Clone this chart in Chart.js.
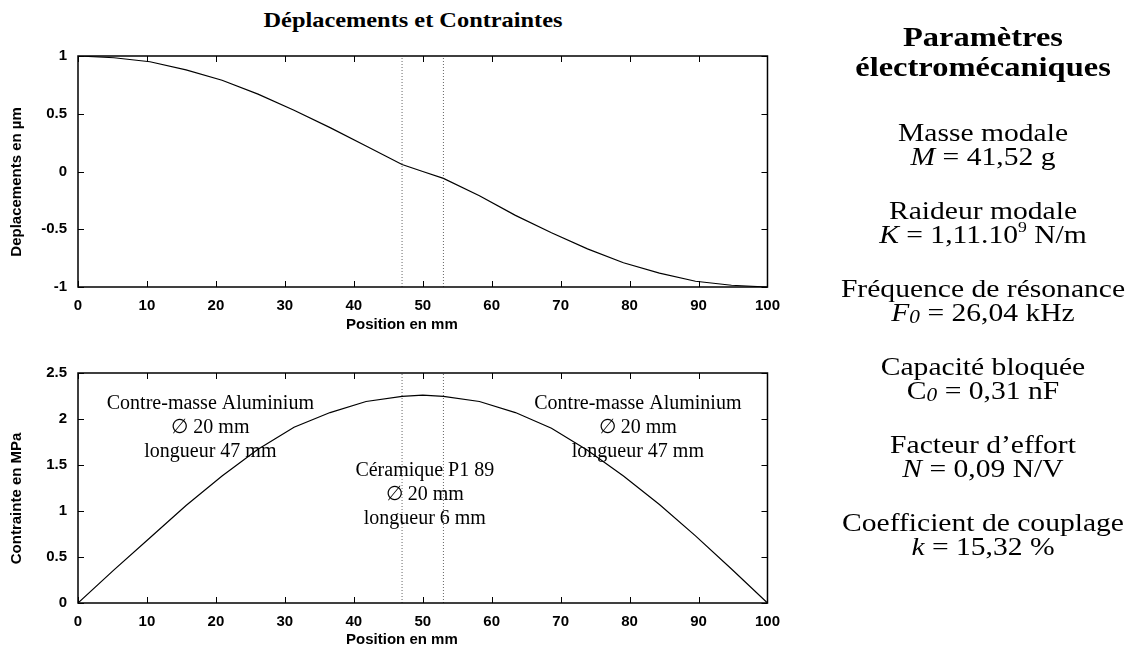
<!DOCTYPE html>
<html>
<head>
<meta charset="utf-8">
<script src="https://cdn.jsdelivr.net/npm/chart.js@4.4.0/dist/chart.umd.min.js"></script>
<style>
body { margin:0; background:#fff; width:1133px; height:655px; overflow:hidden; position:relative; font-family:"Liberation Serif", "Times New Roman", serif; color:#000; }
canvas { position:absolute; left:0; }
#c1 { top:0; }
#c2 { top:340px; }
.t { position:absolute; width:340px; height:28px; line-height:28px; text-align:center; white-space:nowrap; transform:scaleX(1.16); transform-origin:center; }
.h { font-weight:bold; font-size:28px; }
.p { font-size:25.5px; }
#title { position:absolute; left:213px; top:8px; width:400px; text-align:center; font-weight:bold; font-size:21px; line-height:24px; transform:scaleX(1.16); white-space:nowrap; }
sup { font-size:0.6em; vertical-align:0.75em; line-height:0; }
sub { font-size:0.72em; vertical-align:-0.12em; line-height:0; }
</style>
</head>
<body>
<div id="title">Déplacements et Contraintes</div>
<canvas id="c1" width="790" height="340"></canvas>
<canvas id="c2" width="790" height="315"></canvas>
<div id="panel"></div>
<script>
// positions along the transducer (mm)
var positions = [0, 5.22, 10.44, 15.67, 20.89, 26.11, 31.33, 36.56, 41.78, 47, 50, 53, 58.22, 63.44, 68.67, 73.89, 79.11, 84.33, 89.56, 94.78, 100];
// displacement (µm)
var deplacements = [1, 0.985, 0.95, 0.88, 0.79, 0.67, 0.53, 0.38, 0.22, 0.06, 0, -0.06, -0.21, -0.38, -0.53, -0.67, -0.79, -0.88, -0.95, -0.985, -1];
// stress (MPa)
var contraintes = [0, 0.36, 0.71, 1.06, 1.38, 1.67, 1.91, 2.07, 2.19, 2.245, 2.26, 2.245, 2.19, 2.07, 1.9, 1.66, 1.38, 1.07, 0.73, 0.37, 0];
// ceramic boundaries (mm)
var limites = [47, 53];

var notes = [
  { x: 19.2, y: 2.165, lines: ['Contre-masse Aluminium', '\u2205 20 mm', 'longueur 47 mm'] },
  { x: 50.3, y: 1.44, lines: ['Céramique P1 89', '\u2205 20 mm', 'longueur 6 mm'] },
  { x: 81.2, y: 2.165, lines: ['Contre-masse Aluminium', '\u2205 20 mm', 'longueur 47 mm'] }
];

var params = [
  ['Masse modale', '<i>M</i> = 41,52 g'],
  ['Raideur modale', '<i>K</i> = 1,11.10<sup>9</sup> N/m'],
  ['Fréquence de résonance', '<i>F<sub>0</sub></i> = 26,04 kHz'],
  ['Capacité bloquée', 'C<sub><i>0</i></sub> = 0,31 nF'],
  ['Facteur d\u2019effort', '<i>N</i> = 0,09 N/V'],
  ['Coefficient de couplage', '<i>k</i> = 15,32 %']
];

// right hand panel
var panel = document.getElementById('panel');
function addLine(html, cls, cy) {
  var d = document.createElement('div');
  d.className = 't ' + cls;
  d.style.left = '813px';
  d.style.top = (cy - 14) + 'px';
  d.innerHTML = html;
  panel.appendChild(d);
}
addLine('Paramètres', 'h', 37);
addLine('électromécaniques', 'h', 67);
for (var i = 0; i < params.length; i++) {
  addLine(params[i][0], 'p', 133 + i * 78);
  addLine(params[i][1], 'p', 157 + i * 78);
}

Chart.defaults.font.family = 'Liberation Sans';
Chart.defaults.color = '#000';

// gnuplot style frame with inward ticks
var boxTicks = {
  id: 'boxTicks',
  afterDatasetsDraw: function (chart) {
    var a = chart.chartArea, ctx = chart.ctx;
    var xs = chart.scales.x, ys = chart.scales.y;
    ctx.save();
    ctx.strokeStyle = '#000';
    ctx.lineWidth = 1;
    ctx.beginPath();
    xs.ticks.forEach(function (t) {
      var px = Math.round(xs.getPixelForValue(t.value)) + 0.5;
      ctx.moveTo(px, a.bottom); ctx.lineTo(px, a.bottom - 6);
      ctx.moveTo(px, a.top); ctx.lineTo(px, a.top + 6);
    });
    ys.ticks.forEach(function (t) {
      var py = Math.round(ys.getPixelForValue(t.value)) + 0.5;
      ctx.moveTo(a.left, py); ctx.lineTo(a.left + 6, py);
      ctx.moveTo(a.right, py); ctx.lineTo(a.right - 6, py);
    });
    ctx.stroke();
    ctx.lineWidth = 1.5;
    ctx.strokeRect(a.left, a.top, a.right - a.left, a.bottom - a.top);
    ctx.restore();
  }
};

var textNotes = {
  id: 'textNotes',
  afterDatasetsDraw: function (chart, args, opts) {
    if (!opts.items) return;
    var ctx = chart.ctx, xs = chart.scales.x, ys = chart.scales.y;
    ctx.save();
    ctx.font = '20px "Liberation Serif"';
    ctx.fillStyle = '#000';
    ctx.textAlign = 'center';
    ctx.textBaseline = 'middle';
    opts.items.forEach(function (n) {
      var px = xs.getPixelForValue(n.x), py = ys.getPixelForValue(n.y);
      n.lines.forEach(function (l, k) { ctx.fillText(l, px, py + k * 24); });
    });
    ctx.restore();
  }
};

function points(vals) {
  return positions.map(function (p, i) { return { x: p, y: vals[i] }; });
}

function makeChart(id, vals, yMin, yMax, yTitle, padTop, xHeight, items) {
  var sets = [{
    data: points(vals), borderColor: '#000', borderWidth: 1.2,
    pointRadius: 0, tension: 0, fill: false
  }];
  limites.forEach(function (l) {
    sets.push({
      data: [{ x: l, y: yMin }, { x: l, y: yMax }], borderColor: '#666', borderWidth: 1,
      borderDash: [1, 2], pointRadius: 0, fill: false
    });
  });
  return new Chart(document.getElementById(id), {
    type: 'line',
    data: { datasets: sets },
    options: {
      responsive: false,
      animation: false,
      layout: { padding: { top: padTop, right: 20, left: 0, bottom: 0 } },
      plugins: { legend: { display: false }, tooltip: { enabled: false }, textNotes: { items: items } },
      scales: {
        x: {
          type: 'linear', min: 0, max: 100,
          grid: { display: false, drawTicks: false }, border: { display: false },
          ticks: { stepSize: 10, padding: 10, font: { size: 15, weight: 'bold' } },
          title: { display: true, text: 'Position en mm          ', font: { size: 15, weight: 'bold' }, padding: { top: 0, bottom: 6 } },
          afterFit: function (s) { s.height = xHeight; }
        },
        y: {
          min: yMin, max: yMax,
          grid: { display: false, drawTicks: false }, border: { display: false },
          ticks: {
            stepSize: 0.5, padding: 11, font: { size: 15, weight: 'bold' },
            callback: function (v) { return String(Math.round(v * 10) / 10); }
          },
          title: { display: true, text: yTitle, font: { size: 15, weight: 'bold' }, padding: { top: 8, bottom: 0 } },
          afterFit: function (s) { s.width = 78; }
        }
      }
    },
    plugins: [boxTicks, textNotes]
  });
}

makeChart('c1', deplacements, -1, 1, 'Deplacements en \u00b5m     ', 56, 53, null);
makeChart('c2', contraintes, 0, 2.5, 'Contrainte en MPa     ', 33, 52, notes);
</script>
</body>
</html>
